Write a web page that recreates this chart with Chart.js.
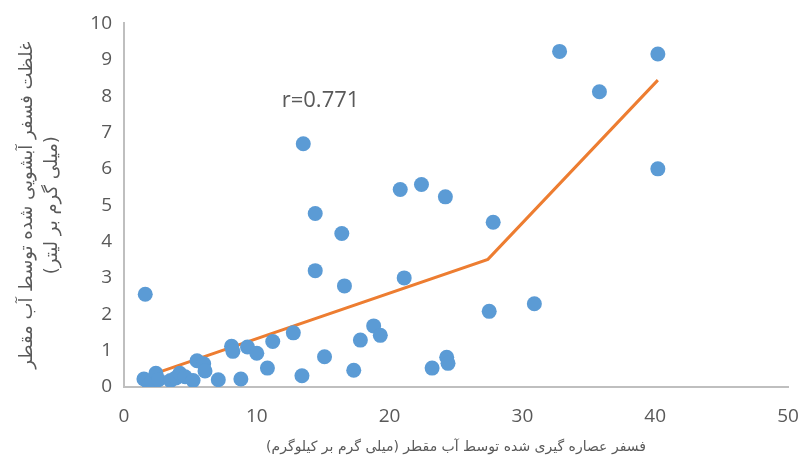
<!DOCTYPE html>
<html>
<head>
<meta charset="utf-8">
<script src="https://cdn.jsdelivr.net/npm/chart.js@4.4.1/dist/chart.umd.min.js"></script>
<style>
  html, body { margin: 0; padding: 0; background: #fff; }
  #wrap { width: 801px; height: 470px; }
</style>
</head>
<body>
<div id="wrap"><canvas id="chart" width="801" height="470"></canvas></div>
<script>
// extracted P vs leached P
const extractedP = [1.6, 1.5, 1.9, 2.1, 2.4, 2.6, 3.5, 3.9, 4.2, 4.6, 5.2, 5.5, 6.0, 6.1, 7.1, 8.1, 8.2, 8.8, 9.3, 10.0,
  10.8, 11.2, 12.75, 13.4, 13.5, 14.4, 14.4, 15.1, 16.4, 16.6, 17.3, 17.8, 18.8, 19.3, 20.8, 21.1, 22.4, 23.2, 24.2, 24.3,
  24.4, 27.5, 27.8, 30.9, 32.8, 35.8, 40.2, 40.2];
const leachedP = [2.55, 0.22, 0.08, 0.15, 0.38, 0.2, 0.18, 0.25, 0.38, 0.28, 0.18, 0.72, 0.64, 0.44, 0.2, 1.12, 0.98, 0.22, 1.1, 0.93,
  0.52, 1.25, 1.49, 0.31, 6.69, 4.77, 3.2, 0.83, 4.22, 2.78, 0.46, 1.29, 1.68, 1.42, 5.43, 3.0, 5.57, 0.52, 5.23, 0.82,
  0.65, 2.08, 4.53, 2.29, 9.23, 8.12, 9.16, 6.0];

// orange trend line
const trendX = [1.6, 27.4, 40.2];
const trendY = [0.28, 3.51, 8.44];

const xTicks = [0, 10, 20, 30, 40, 50];
const yTicks = [0, 1, 2, 3, 4, 5, 6, 7, 8, 9, 10];

const rLabel = 'r=0.771';
const rLabelAt = { x: 14.8, y: 7.87 };

const xTitle = 'فسفر عصاره گیری شده توسط آب مقطر (میلی گرم بر کیلوگرم)';
const yTitle = ['غلظت فسفر آبشویی شده توسط آب مقطر', '(میلی گرم بر لیتر)'];

const scatterPts = extractedP.map((x, i) => ({ x: x, y: leachedP[i] }));
const trendPts = trendX.map((x, i) => ({ x: x, y: trendY[i] }));

const grey = '#595959';
const axisGrey = '#BFBFBF';
const tickFont = { family: 'Open Sans', size: 19 };

const rLabelPlugin = {
  id: 'rLabel',
  afterDatasetsDraw(chart) {
    const ctx = chart.ctx;
    const px = chart.scales.x.getPixelForValue(rLabelAt.x);
    const py = chart.scales.y.getPixelForValue(rLabelAt.y);
    ctx.save();
    ctx.fillStyle = grey;
    ctx.font = '22px "Open Sans"';
    ctx.textAlign = 'center';
    ctx.textBaseline = 'middle';
    ctx.fillText(rLabel, px, py);
    ctx.restore();
  }
};

new Chart('chart', {
  type: 'scatter',
  data: {
    datasets: [
      {
        label: 'points',
        data: scatterPts,
        backgroundColor: '#5B9BD5',
        borderColor: '#5B9BD5',
        borderWidth: 0,
        pointRadius: 7.5,
        order: 0
      },
      {
        type: 'line',
        label: 'trend',
        data: trendPts,
        borderColor: '#ED7D31',
        borderWidth: 3,
        pointRadius: 0,
        fill: false,
        tension: 0,
        order: 1
      }
    ]
  },
  options: {
    responsive: false,
    animation: false,
    layout: { padding: { left: 0, right: 13, top: 19, bottom: 0 } },
    plugins: { legend: { display: false }, tooltip: { enabled: false } },
    scales: {
      x: {
        type: 'linear',
        min: 0, max: 50,
        afterBuildTicks: s => { s.ticks = xTicks.map(v => ({ value: v })); },
        afterFit: s => { s.height = 83; s.paddingLeft = 0; s.paddingRight = 12; },
        grid: { display: false, drawTicks: false },
        border: { display: true, color: axisGrey, width: 2 },
        ticks: { color: grey, font: tickFont, padding: 18 },
        title: { display: true, text: xTitle, color: grey, font: { family: 'DejaVu Sans', size: 14, lineHeight: 1.5 }, padding: { top: 0, bottom: 12 } }
      },
      y: {
        type: 'linear',
        min: 0, max: 10,
        afterBuildTicks: s => { s.ticks = yTicks.map(v => ({ value: v })); },
        afterFit: s => { s.width = 124; },
        grid: { display: false, drawTicks: false },
        border: { display: true, color: axisGrey, width: 2 },
        ticks: { color: grey, font: tickFont, padding: 12 },
        title: { display: true, text: yTitle, color: grey, font: { family: 'DejaVu Sans', size: 18, lineHeight: 1.4 }, padding: { top: 15, bottom: 0 } }
      }
    }
  },
  plugins: [rLabelPlugin]
});
</script>
</body>
</html>
